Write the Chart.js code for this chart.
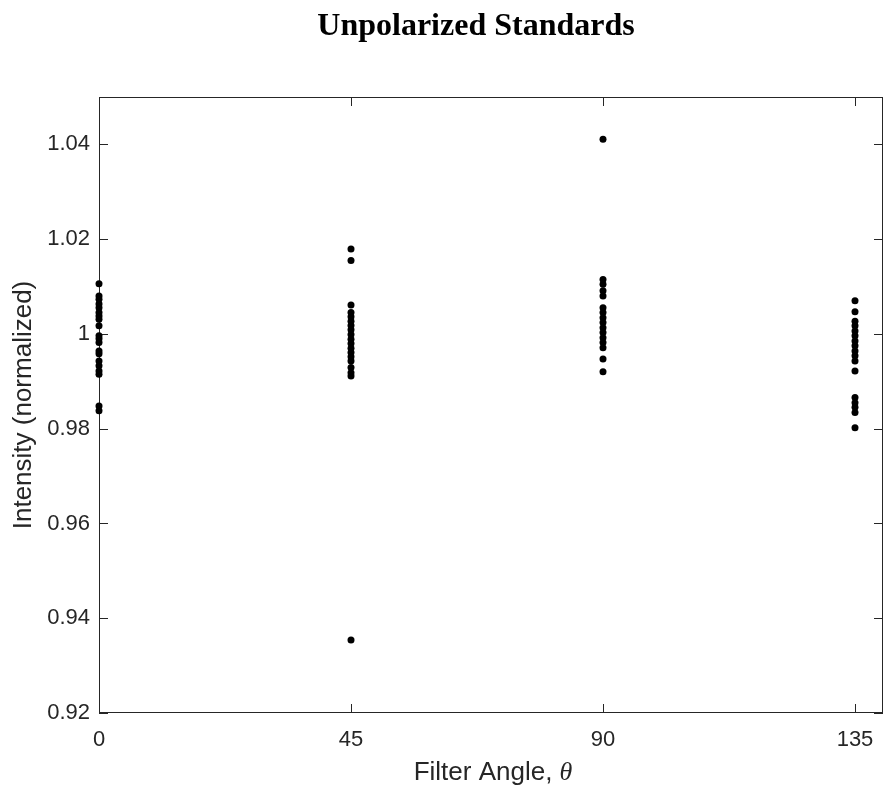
<!DOCTYPE html>
<html>
<head>
<meta charset="utf-8">
<script src="https://cdn.jsdelivr.net/npm/chart.js@4/dist/chart.umd.min.js"></script>
<style>
  html, body { margin:0; padding:0; background:#fff; }
  #wrap { width:883px; height:791px; }
</style>
</head>
<body>
<div id="wrap"><canvas id="c" width="883" height="791"></canvas></div>
<script>
/* ======= Data ======= */
const ANGLES = [0, 45, 90, 135];
const Y_TICKS = [0.92, 0.94, 0.96, 0.98, 1.00, 1.02, 1.04];

const vals0 = [1.0106, 1.0080, 1.0073, 1.0063, 1.0055, 1.0045, 1.0038, 1.0031, 1.0017, 0.9996,
               0.9990, 0.9982, 0.9964, 0.9958, 0.9943, 0.9933, 0.9922, 0.9915, 0.9848, 0.9838];
const vals45 = [1.0179, 1.0155, 1.0061, 1.0045, 1.0036, 1.0027, 1.0018, 1.0009, 0.9999, 0.9989,
                0.9980, 0.9970, 0.9961, 0.9952, 0.9943, 0.9929, 0.9918, 0.9911, 0.9354];
const vals90 = [1.0411, 1.0115, 1.0105, 1.0091, 1.0080, 1.0055, 1.0045, 1.0034, 1.0024, 1.0013,
                1.0003, 0.9992, 0.9982, 0.9971, 0.9947, 0.9920];
const vals135 = [1.0070, 1.0047, 1.0027, 1.0017, 1.0006, 0.9996, 0.9985, 0.9975, 0.9964, 0.9954,
                 0.9943, 0.9922, 0.9866, 0.9855, 0.9845, 0.9834, 0.9802];

const TITLE = 'Unpolarized Standards';
const Y_TITLE = 'Intensity (normalized)';
const X_TITLE = 'Filter Angle, ';
const X_TITLE_SYM = 'θ';

/* ======= Build points ======= */
const columns = [vals0, vals45, vals90, vals135];
const points = [];
columns.forEach((col, i) => col.forEach(v => points.push({ x: ANGLES[i], y: v })));

const AXIS_COLOR = '#262626';
const SANS = '"Liberation Sans", Arial, sans-serif';

/* ======= Box + inward ticks + titles ======= */
const boxPlugin = {
  id: 'box',
  beforeDatasetsDraw(chart) {
    const { ctx, chartArea: a, scales } = chart;
    const tl = 9;
    ctx.save();
    ctx.strokeStyle = AXIS_COLOR;
    ctx.lineWidth = 1;
    ctx.strokeRect(a.left + 0.5, a.top + 0.5, a.right - a.left - 1, a.bottom - a.top - 1);
    ctx.beginPath();
    for (const v of ANGLES) {
      const x = Math.round(scales.x.getPixelForValue(v)) + 0.5;
      ctx.moveTo(x, a.bottom); ctx.lineTo(x, a.bottom - tl);
      ctx.moveTo(x, a.top); ctx.lineTo(x, a.top + tl);
    }
    for (const v of Y_TICKS) {
      const y = Math.round(scales.y.getPixelForValue(v)) + 0.5;
      ctx.moveTo(a.left, y); ctx.lineTo(a.left + tl, y);
      ctx.moveTo(a.right, y); ctx.lineTo(a.right - tl, y);
    }
    ctx.stroke();
    ctx.restore();
  },
  afterDraw(chart) {
    const { ctx, chartArea: a } = chart;
    ctx.save();
    // title
    ctx.fillStyle = '#000';
    ctx.font = 'bold 32px "Liberation Serif", "Times New Roman", serif';
    ctx.textAlign = 'center';
    ctx.textBaseline = 'middle';
    ctx.fillText(TITLE, 476, 27);

    // y title
    ctx.fillStyle = AXIS_COLOR;
    ctx.font = '26px ' + SANS;
    ctx.save();
    ctx.translate(24, (a.top + a.bottom) / 2);
    ctx.rotate(-Math.PI / 2);
    ctx.fillText(Y_TITLE, 0, 0);
    ctx.restore();

    // x title with italic theta
    const f1 = '26px ' + SANS;
    const f2 = 'italic 26px "Liberation Serif", "Times New Roman", serif';
    ctx.font = f1;
    const w1 = ctx.measureText(X_TITLE).width;
    ctx.font = f2;
    const w2 = ctx.measureText(X_TITLE_SYM).width;
    const cx = (a.left + a.right) / 2 + 2;
    let x0 = cx - (w1 + w2) / 2;
    ctx.textAlign = 'left';
    ctx.font = f1;
    ctx.fillText(X_TITLE, x0, 773);
    ctx.font = f2;
    ctx.fillText(X_TITLE_SYM, x0 + w1, 773);
    ctx.restore();
  }
};

new Chart(document.getElementById('c').getContext('2d'), {
  type: 'scatter',
  data: {
    datasets: [{
      data: points,
      backgroundColor: '#000',
      borderColor: '#000',
      pointRadius: 3.5,
      pointHoverRadius: 3.5,
      borderWidth: 0,
      clip: false
    }]
  },
  options: {
    responsive: false,
    animation: false,
    layout: { autoPadding: false, padding: { top: 97, right: 0, left: 0, bottom: 0 } },
    plugins: { legend: { display: false }, tooltip: { enabled: false }, title: { display: false } },
    scales: {
      x: {
        type: 'linear', min: 0, max: 140,
        afterFit(s) { s.height = 78; s.paddingLeft = 0; s.paddingRight = 0; },
        afterBuildTicks(s) { s.ticks = ANGLES.map(v => ({ value: v })); },
        grid: { display: false, drawTicks: false },
        border: { display: false },
        ticks: { color: AXIS_COLOR, font: { family: SANS, size: 22 }, padding: 14, maxRotation: 0,
                 callback: v => String(v) }
      },
      y: {
        type: 'linear', min: 0.92, max: 1.05,
        afterFit(s) { s.width = 99; s.paddingTop = 0; s.paddingBottom = 0; },
        afterBuildTicks(s) { s.ticks = Y_TICKS.map(v => ({ value: v })); },
        grid: { display: false, drawTicks: false },
        border: { display: false },
        ticks: { color: AXIS_COLOR, font: { family: SANS, size: 22 }, padding: 9,
                 callback: v => String(Number(v.toFixed(2))) }
      }
    }
  },
  plugins: [boxPlugin]
});
</script>
</body>
</html>
